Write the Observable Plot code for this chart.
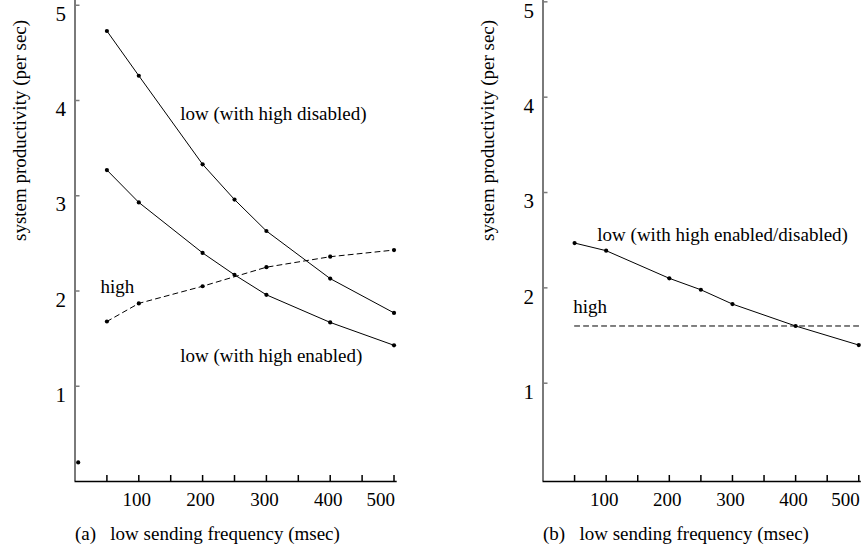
<!DOCTYPE html>
<html><head><meta charset="utf-8">
<script src="https://cdn.jsdelivr.net/npm/d3@7"></script>
<script src="https://cdn.jsdelivr.net/npm/@observablehq/plot@0.6"></script>
<style>
body{margin:0;background:#fff}
#wrap{position:relative;width:861px;height:550px;background:#fff}
#wrap svg{position:absolute;top:0}
</style></head><body><div id="wrap"></div>
<script>
// ---- data: panel (a)
const freqA = [50, 100, 200, 250, 300, 400, 500];
const lowDisabledA = [4.73, 4.26, 3.33, 2.96, 2.63, 2.13, 1.77];
const lowEnabledA = [3.27, 2.93, 2.40, 2.17, 1.96, 1.67, 1.43];
const freqHighA = [50, 100, 200, 300, 400, 500];
const highA = [1.68, 1.87, 2.05, 2.25, 2.36, 2.43];
const strayFreqA = [5];
const strayA = [0.2];
const labelTextA = ["low (with high disabled)", "high", "low (with high enabled)"];
const labelFreqA = [165, 40, 165];
const labelValA = [3.86, 2.04, 1.32];
// ---- data: panel (b)
const freqB = [50, 100, 200, 250, 300, 400, 500];
const lowB = [2.47, 2.39, 2.10, 1.98, 1.83, 1.60, 1.40];
const freqHighB = [50, 500, 504];
const highB = [1.6, 1.6, 1.6];
const labelTextB = ["low (with high enabled/disabled)", "high"];
const labelFreqB = [86, 48];
const labelValB = [2.56, 1.80];
// ---- ticks
const yTicks = [1, 2, 3, 4, 5];
const xTicks = [50, 100, 150, 200, 250, 300, 350, 400, 450, 500];
const xLabelTicks = [100, 200, 300, 400];
const xLastTick = [500];
const yTitle = "system productivity (per sec)";
const captionA = "(a)\u00a0\u00a0\u00a0low sending frequency (msec)";
const captionB = "(b)\u00a0\u00a0\u00a0low sending frequency (msec)";

const FONT = "Liberation Serif";
const rows = (xs, ys) => xs.map((f, i) => ({f, v: ys[i]}));
const labelRows = (t, xs, ys) => t.map((s, i) => ({s, f: xs[i], v: ys[i]}));

function panel({left, width, marginLeft, marginRight, xDomain, yDomain, solid, dashed, dots, labels, caption}) {
  const marks = [
    Plot.ruleX([xDomain[0]], {stroke: "#7a7a7a", strokeWidth: 2}),
    Plot.ruleY([yDomain[0]], {stroke: "black", strokeWidth: 1.3}),
    Plot.axisY(yTicks, {tickSize: -5, tickFormat: () => "", stroke: "#7a7a7a", strokeWidth: 1.5, label: null}),
    Plot.axisY(yTicks, {tickSize: 0, tickPadding: 9, dy: 9, fontSize: 21, fontFamily: FONT, fill: "black",
      tickFormat: d => String(d), label: null}),
    Plot.axisX(xTicks, {tickSize: -6, strokeWidth: 1.5, tickFormat: () => "", label: null}),
    Plot.axisX(xLabelTicks, {tickSize: 0, tickPadding: 11, dx: -2, fontSize: 19, fontFamily: FONT, fill: "black",
      tickFormat: d => String(d), label: null}),
    Plot.axisX(xLastTick, {tickSize: 0, tickPadding: 11, dx: 1, textAnchor: "end", fontSize: 19, fontFamily: FONT, fill: "black",
      tickFormat: d => String(d), label: null}),
    Plot.text([yTitle], {frameAnchor: "left", rotate: -90, dx: -55, fontSize: 19, fontFamily: FONT, lineAnchor: "middle", fill: "black"}),
    Plot.text([caption], {frameAnchor: "bottom-left", textAnchor: "start", dy: 52, fontSize: 19, fontFamily: FONT, lineAnchor: "middle", fill: "black"})
  ];
  for (const s of solid) marks.push(Plot.line(s, {x: "f", y: "v", stroke: "black", strokeWidth: 1}));
  for (const s of dashed) marks.push(Plot.line(s, {x: "f", y: "v", stroke: "black", strokeWidth: 1, strokeDasharray: "5,4"}));
  for (const s of dots) marks.push(Plot.dot(s, {x: "f", y: "v", r: 2.1, fill: "black", stroke: "none"}));
  marks.push(Plot.text(labels, {x: "f", y: "v", text: "s", textAnchor: "start", lineAnchor: "middle", fontSize: 19, fontFamily: FONT, fill: "black"}));
  const svg = Plot.plot({
    width, height: 550, marginLeft, marginRight, marginTop: 0, marginBottom: 69,
    x: {domain: xDomain, label: null},
    y: {domain: yDomain, label: null},
    style: {fontFamily: FONT, background: "white", color: "black", overflow: "visible"},
    marks
  });
  svg.style.left = left + "px";
  document.getElementById("wrap").appendChild(svg);
}

const a1 = rows(freqA, lowDisabledA), a2 = rows(freqA, lowEnabledA), a3 = rows(freqHighA, highA), a4 = rows(strayFreqA, strayA);
panel({
  left: 0, width: 430, marginLeft: 74.5, marginRight: 33.3,
  xDomain: [0, 505], yDomain: [0, 5.05],
  solid: [a1, a2], dashed: [a3], dots: [a1, a2, a3, a4],
  labels: labelRows(labelTextA, labelFreqA, labelValA), caption: captionA
});
const b1 = rows(freqB, lowB), b2 = rows(freqHighB, highB);
panel({
  left: 430, width: 431, marginLeft: 112.5, marginRight: 0.2,
  xDomain: [0, 504], yDomain: [-0.031, 5.014],
  solid: [b1], dashed: [b2], dots: [b1],
  labels: labelRows(labelTextB, labelFreqB, labelValB), caption: captionB
});
</script></body></html>
